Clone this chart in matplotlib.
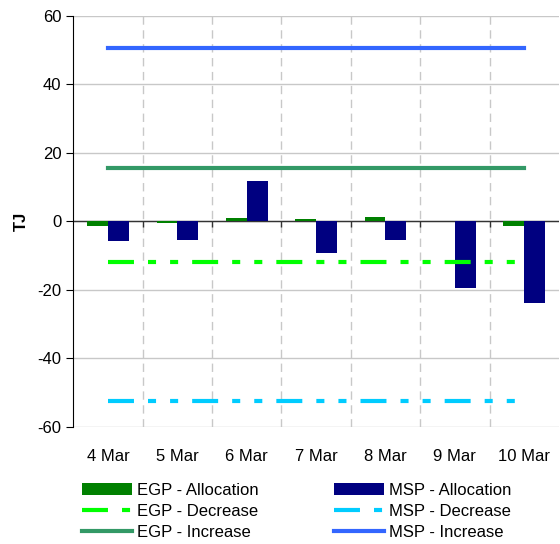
import numpy as np
import matplotlib.pyplot as plt

plt.rcParams['font.family'] = ['Liberation Sans', 'DejaVu Sans']
plt.rcParams['lines.scale_dashes'] = False
plt.rcParams['axes.unicode_minus'] = False

# Data
days = ['4 Mar', '5 Mar', '6 Mar', '7 Mar', '8 Mar', '9 Mar', '10 Mar']
egp_alloc = [-1.3, -0.5, 0.9, 0.6, 1.2, 0.0, -1.3]
msp_alloc = [-5.7, -5.5, 11.7, -9.3, -5.5, -19.3, -23.9]
egp_decrease = [-11.9] * 7
msp_decrease = [-52.3] * 7
egp_increase = [15.7] * 7
msp_increase = [50.5] * 7

x = np.arange(len(days))
w = 0.3

fig = plt.figure(figsize=(5.6, 5.44), dpi=100)
ax = fig.add_axes([0.131, 0.215, 0.867, 0.756])

dash = (0, (18.7, 10.1, 5.8, 10.1, 5.8, 10.1))
b1 = ax.bar(x - w / 2, egp_alloc, w, color='#008000', label='EGP - Allocation', zorder=3)
l1, = ax.plot(x, egp_decrease, color='#00FF00', lw=3, linestyle=dash, label='EGP - Decrease', zorder=4)
l2, = ax.plot(x, egp_increase, color='#339966', lw=3, label='EGP - Increase', zorder=4)
b2 = ax.bar(x + w / 2, msp_alloc, w, color='#000080', label='MSP - Allocation', zorder=3)
l3, = ax.plot(x, msp_decrease, color='#00CCFF', lw=3, linestyle=dash, label='MSP - Decrease', zorder=4)
l4, = ax.plot(x, msp_increase, color='#3366FF', lw=3, label='MSP - Increase', zorder=4)

ax.set_xlim(-0.5, len(days) - 0.5)
ax.set_ylim(-60, 60)
ax.set_yticks(range(-60, 61, 20))
ax.set_xticks(x)
ax.set_xticklabels(days)
ax.tick_params(axis='x', length=0, pad=16, labelsize=12)
ax.tick_params(axis='y', length=5, labelsize=12, direction='out')
ax.set_xticks(x[:-1] + 0.5, minor=True)
ax.tick_params(axis='x', which='minor', length=0)

ax.grid(axis='y', color='#C8C8C8', lw=1, zorder=0)
ax.grid(axis='x', which='minor', color='#C8C8C8', lw=1, linestyle=(0, (6, 4)), zorder=0)
for s in ['top', 'right', 'bottom']:
    ax.spines[s].set_visible(False)
ax.spines['left'].set_color('black')

# zero line with small ticks at category boundaries
ax.axhline(0, color='#333333', lw=1, zorder=2)
ax.vlines(x[:-1] + 0.5, -1.6, 0, color='#333333', lw=1, zorder=2)

ax.set_ylabel('TJ', fontsize=12, fontweight='bold', labelpad=6)

ax.legend([b1, l1, l2, b2, l3, l4],
          ['EGP - Allocation', 'EGP - Decrease', 'EGP - Increase',
           'MSP - Allocation', 'MSP - Decrease', 'MSP - Increase'],
          loc='upper left', bbox_to_anchor=(0.005, -0.12), ncol=2, frameon=False,
          fontsize=12, handlelength=3.0, handletextpad=0.3, columnspacing=4.5,
          labelspacing=0.36, borderaxespad=0)

fig.savefig('out.png', dpi=100)
